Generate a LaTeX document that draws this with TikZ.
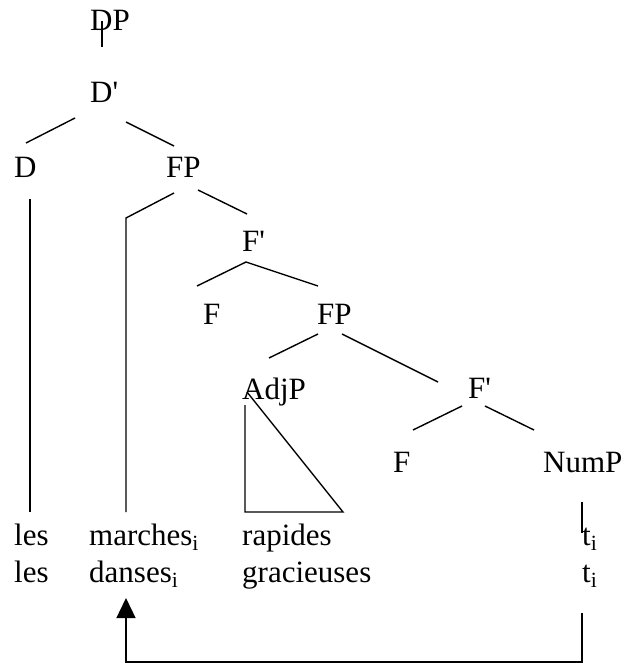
\documentclass[tikz,border=0pt]{standalone}
\usepackage{fontspec}
\setmainfont{Liberation Serif}[Ligatures=TeXOff]
\usetikzlibrary{arrows.meta}

\begin{document}
\begin{tikzpicture}[x=1pt,y=-1pt]
		\useasboundingbox (0,0) rectangle (625,663);
		\begin{scope}[every node/.style={anchor=base west,inner sep=0pt,font=\fontsize{31}{37}\selectfont}]
		    \node (DP) at (90,31) {DP};
		    \node (Dbar) at (90,103) {D'};
		    \node (D) at (14,177) {D};
		    \node (FPa) at (166,177) {FP};
		    \node (Fbara) at (242,251) {F'};
		    \node (Fa) at (203,324) {F};
		    \node (FPb) at (317,324) {FP};
		    \node (AdjP) at (242,399) {AdjP};
		    \node (Fbarb) at (468,398) {F'};
		    \node (Fb) at (393,472) {F};
		    \node (NumP) at (543,472) {NumP};
		    \node (les1) at (14,545) {les};
		    \node (les2) at (14,582) {les};
		    \node (marches) at (89,545) {marches\textsubscript{i}};
		    \node (danses) at (89,582) {danses\textsubscript{i}};
		    \node (rapides) at (242,545) {rapides};
		    \node (gracieuses) at (242,582) {gracieuses};
		    \node (t1) at (582,545) {t\textsubscript{i}};
		    \node (t2) at (582,582) {t\textsubscript{i}};
		\end{scope}
		
		% branch ends
		\coordinate (DP-top) at (102,21);
		\coordinate (DP-bot) at (102,47);
		\coordinate (Dbar-l) at (75,118);
		\coordinate (Dbar-r) at (126,122);
		\coordinate (D-top) at (26,143);
		\coordinate (FPa-top) at (174,146);
		\coordinate (D-stem) at (30,199);
		\coordinate (D-foot) at (30,512);
		\coordinate (FPa-l) at (174,193);
		\coordinate (FPa-r) at (198,190);
		\coordinate (mv-knee) at (126,218);
		\coordinate (mv-foot) at (126,512);
		\coordinate (Fbara-top) at (247,214);
		\coordinate (Fbara-bot) at (246,262);
		\coordinate (Fa-top) at (197,286);
		\coordinate (FPb-top) at (318,286);
		\coordinate (FPb-l) at (318,334);
		\coordinate (FPb-r) at (342,334);
		\coordinate (AdjP-top) at (269,358);
		\coordinate (Fbarb-top) at (438,382);
		\coordinate (tri-a) at (247,392);
		\coordinate (tri-b) at (343,512);
		\coordinate (tri-c) at (245,512);
		\coordinate (tri-d) at (245,405);
		\coordinate (Fbarb-l) at (462,406);
		\coordinate (Fbarb-r) at (485,406);
		\coordinate (Fb-top) at (413,430);
		\coordinate (NumP-top) at (534,430);
		\coordinate (NumP-stem) at (582,502);
		\coordinate (NumP-foot) at (582,533);
		\coordinate (trace) at (582,613);
		\coordinate (landing) at (126,598);
		
		\begin{scope}[line width=1.4pt]
		    \draw (DP-top) -- (DP-bot);
		    \draw (Dbar-l) -- (D-top);
		    \draw (Dbar-r) -- (FPa-top);
		    \draw (D-stem) -- (D-foot);
		    \draw (FPa-l) -- (mv-knee) -- (mv-foot);
		    \draw (FPa-r) -- (Fbara-top);
		    \draw (Fa-top) -- (Fbara-bot) -- (FPb-top);
		    \draw (FPb-l) -- (AdjP-top);
		    \draw (FPb-r) -- (Fbarb-top);
		    \draw (tri-a) -- (tri-b) -- (tri-c) -- (tri-d);
		    \draw (Fbarb-l) -- (Fb-top);
		    \draw (Fbarb-r) -- (NumP-top);
		    \draw (NumP-stem) -- (NumP-foot);
		    \draw[-{Triangle[width=19pt,length=20pt]}] (trace) -- ++(0,49) -| (landing);
		\end{scope}
\end{tikzpicture}
\end{document}
